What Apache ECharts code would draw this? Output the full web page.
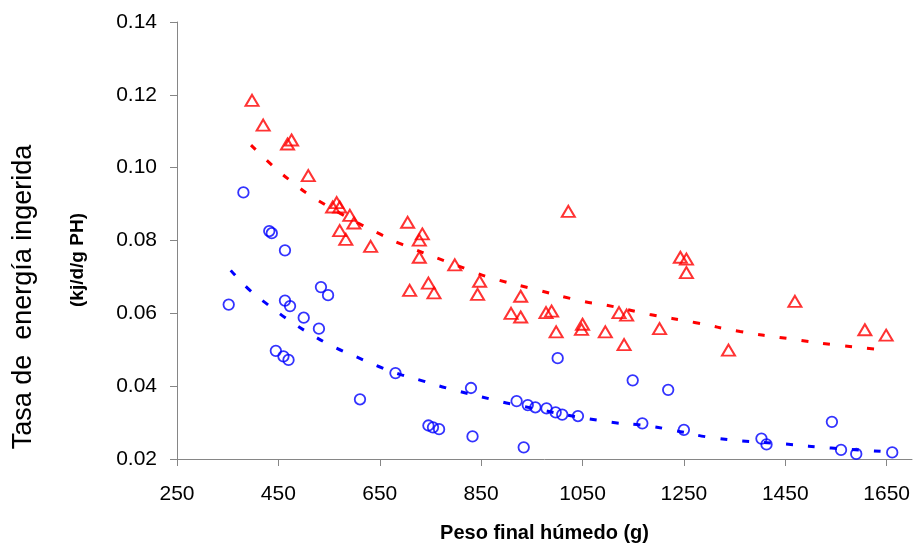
<!DOCTYPE html>
<html>
<head>
<meta charset="utf-8">
<script src="https://cdn.jsdelivr.net/npm/echarts@6/dist/echarts.min.js"></script>
<style>
  html, body { margin: 0; padding: 0; background: #fff; }
  #chart { width: 917px; height: 548px; }
</style>
</head>
<body>
<div id="chart"></div>
<script>
// 红色三角 (peso, tasa)
var redPoints = [
  [398, 0.1185], [420, 0.1117], [468, 0.1065], [476, 0.1076], [509, 0.0978],
  [557, 0.0892], [565, 0.0904], [571, 0.0892], [591, 0.0869], [599, 0.0848],
  [571, 0.0827], [583, 0.0803], [632, 0.0784], [705, 0.0850], [734, 0.0818],
  [728, 0.0801], [728, 0.0754], [798, 0.0733], [746, 0.0683], [709, 0.0663],
  [757, 0.0656], [1022, 0.0880], [847, 0.0688], [843, 0.0652], [928, 0.0647],
  [909, 0.0600], [928, 0.0590], [978, 0.0602], [989, 0.0606], [998, 0.0549],
  [1050, 0.0570], [1048, 0.0556], [1095, 0.0549], [1122, 0.0602], [1137, 0.0595],
  [1132, 0.0514], [1202, 0.0558], [1243, 0.0754], [1255, 0.0749], [1255, 0.0712],
  [1338, 0.0499], [1469, 0.0633], [1607, 0.0555], [1649, 0.0540]
];
// 蓝色圆圈
var bluePoints = [
  [352, 0.0624], [381, 0.0932], [432, 0.0826], [437, 0.0820], [463, 0.0773],
  [463, 0.0635], [473, 0.0620], [445, 0.0497], [460, 0.0482], [470, 0.0472],
  [500, 0.0588], [530, 0.0558], [534, 0.0672], [548, 0.0650], [611, 0.0364],
  [681, 0.0436], [746, 0.0292], [755, 0.0287], [767, 0.0282], [830, 0.0395],
  [833, 0.0262], [920, 0.0359], [934, 0.0232], [942, 0.0348], [957, 0.0342],
  [979, 0.0339], [997, 0.0328], [1001, 0.0477], [1010, 0.0322], [1041, 0.0318],
  [1149, 0.0416], [1168, 0.0298], [1219, 0.0390], [1250, 0.0280], [1403, 0.0256],
  [1413, 0.0240], [1542, 0.0302], [1560, 0.0225], [1590, 0.0214], [1661, 0.0218]
];
// 趋势线
var redTrend = [
  [396, 0.1062], [443, 0.1000], [476, 0.0962], [518, 0.0919], [607, 0.0848],
  [650, 0.0818], [693, 0.0790], [828, 0.0718], [870, 0.0697], [959, 0.0665],
  [1051, 0.0633], [1095, 0.0623], [1183, 0.0597], [1271, 0.0575], [1361, 0.0550],
  [1454, 0.0531], [1544, 0.0514], [1640, 0.0500]
];
var blueTrend = [
  [356, 0.0718], [394, 0.0663], [430, 0.0623], [473, 0.0579], [516, 0.0541],
  [558, 0.0509], [603, 0.0481], [648, 0.0454], [693, 0.0431], [736, 0.0414],
  [782, 0.0395], [870, 0.0364], [913, 0.0350], [1091, 0.0304], [1179, 0.0291],
  [1225, 0.0280], [1315, 0.0257], [1451, 0.0241], [1541, 0.0230], [1638, 0.0221]
];
var xTicks = [250, 450, 650, 850, 1050, 1250, 1450, 1650];

var font = '"Liberation Sans", Arial, sans-serif';
var axisGray = '#868686';

var myChart = echarts.init(document.getElementById('chart'));

var option = {
  animation: false,
  grid: {
    left: 177,
    right: 5,
    top: 22,
    bottom: 86
  },
  xAxis: {
    type: 'value',
    min: 250,
    max: 1700,
    name: 'Peso final húmedo (g)',
    nameLocation: 'middle',
    nameGap: 64,
    nameTextStyle: { fontFamily: font, fontSize: 20, fontWeight: 'bold', color: '#000' },
    axisLine: { lineStyle: { color: axisGray, width: 1 } },
    axisTick: { show: true, length: 7, customValues: xTicks, lineStyle: { color: axisGray } },
    axisLabel: {
      customValues: xTicks, margin: 25, fontFamily: font, fontSize: 21, color: '#000',
      formatter: function (v) { return String(v); } // 不要千位分隔符
    },
    splitLine: { show: false }
  },
  yAxis: {
    type: 'value',
    min: 0.02,
    max: 0.14,
    interval: 0.02,
    axisLine: { show: true, lineStyle: { color: axisGray, width: 1 } },
    axisTick: { show: true, length: 7, lineStyle: { color: axisGray } },
    axisLabel: {
      margin: 20, fontFamily: font, fontSize: 21, color: '#000',
      formatter: function (v) { return v.toFixed(2); }
    },
    splitLine: { show: false }
  },
  graphic: [
    {
      type: 'text', x: 24, y: 297, rotation: Math.PI / 2,
      style: {
        text: 'Tasa de  energía ingerida', fill: '#000',
        font: '27px ' + font, textAlign: 'center', textVerticalAlign: 'middle'
      }
    },
    {
      type: 'text', x: 78, y: 260, rotation: Math.PI / 2,
      style: {
        text: '(kj/d/g PH)', fill: '#000',
        font: 'bold 19px ' + font, textAlign: 'center', textVerticalAlign: 'middle'
      }
    }
  ],
  series: [
    {
      type: 'line', data: redTrend, smooth: true, showSymbol: false, z: 1,
      lineStyle: { color: '#ff0000', width: 3, type: [7, 15] }
    },
    {
      type: 'line', data: blueTrend, smooth: true, showSymbol: false, z: 1,
      lineStyle: { color: '#0000ff', width: 3, type: [7, 15] }
    },
    {
      type: 'scatter', data: redPoints, symbol: 'triangle', symbolSize: [13, 11], z: 3,
      itemStyle: { color: 'transparent', borderColor: '#ff0000', borderWidth: 2 }
    },
    {
      type: 'scatter', data: bluePoints, symbol: 'circle', symbolSize: 10.5, z: 3,
      itemStyle: { color: 'transparent', borderColor: '#0000ff', borderWidth: 1.8 }
    }
  ]
};

myChart.setOption(option);
</script>
</body>
</html>
